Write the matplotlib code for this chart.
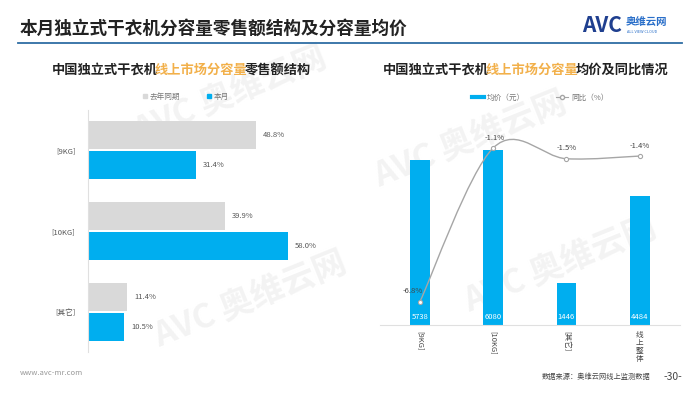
import matplotlib
matplotlib.use("Agg")
import matplotlib.pyplot as plt
from matplotlib.path import Path
from matplotlib.patches import PathPatch, Patch
from matplotlib.lines import Line2D
import numpy as np

plt.rcParams['font.family'] = ['Noto Sans CJK SC', 'DejaVu Sans']

# data
share_cats = ['[9KG]', '[10KG]', '[其它]']
share_last = [48.8, 39.9, 11.4]
share_now = [31.4, 58.0, 10.5]

price_cats = ['[9KG]', '[10KG]', '[其它]', '线\n上\n整\n体']
price = [5738, 6080, 1446, 4484]
yoy = [-6.8, -1.1, -1.5, -1.4]

BLUE = '#00AEEF'
GREY = '#D9D9D9'
ORANGE = '#F2B04A'
W, H = 700, 394

fig = plt.figure(figsize=(7, 3.94), dpi=100)


def fx(px):
    return px / W


def fy(py):
    return 1 - py / H


# header
fig.text(fx(20), fy(29), '本月独立式干衣机分容量零售额结构及分容量均价', fontsize=12.7,
         fontweight='bold', color='#222222', va='center')
fig.add_artist(Line2D([fx(18), fx(682)], [fy(43), fy(43)], color='#2E6DA4', lw=1.3))
fig.text(fx(582), fy(25), 'AVC', fontsize=15, fontweight='bold', color='#1F3F8F',
         va='center', style='italic')
fig.text(fx(626), fy(22), '奥维云网', fontsize=7.5, fontweight='bold', color='#2A6FC9', va='center')
fig.text(fx(627), fy(32), 'ALL VIEW CLOUD', fontsize=2.8, color='#2A6FC9', va='center')

# watermarks
for (x, y) in [(230, 95), (250, 300), (470, 140), (560, 265)]:
    fig.text(fx(x), fy(y), 'AVC 奥维云网', fontsize=24, fontweight='bold', color='#F3F3F3',
             rotation=22, ha='center', va='center', zorder=-1)


def mixed_title(xc, y, parts):
    r = fig.canvas.get_renderer()
    objs = [fig.text(0, fy(y), s, fontsize=9.5, fontweight='bold', color=c, va='center')
            for s, c in parts]
    widths = [o.get_window_extent(r).width - 3 for o in objs]
    x = xc - sum(widths) / 2
    for o, wd in zip(objs, widths):
        o.set_x(fx(x))
        x += wd


mixed_title(180, 70, [('中国独立式干衣机', '#222222'), ('线上市场分容量', ORANGE),
                      ('零售额结构', '#222222')])
mixed_title(524, 70, [('中国独立式干衣机', '#222222'), ('线上市场分容量', ORANGE),
                      ('均价及同比情况', '#222222')])

# left chart: retail share
ax1 = fig.add_axes([fx(88), fy(352), fx(340 - 88), (352 - 110) / H])
ax1.set_facecolor('none')
ypos = np.arange(len(share_cats))
bh = 0.345
ax1.barh(ypos - 0.185, share_last, height=bh, color=GREY)
ax1.barh(ypos + 0.185, share_now, height=bh, color=BLUE)
for i in range(len(share_cats)):
    ax1.text(share_last[i] + 2, ypos[i] - 0.185, f'{share_last[i]:.1f}%', fontsize=5.5,
             color='#555555', va='center')
    ax1.text(share_now[i] + 2, ypos[i] + 0.185, f'{share_now[i]:.1f}%', fontsize=5.5,
             color='#555555', va='center')
ax1.set_xlim(0, 73.2)
ax1.set_ylim(2.5, -0.5)
ax1.set_yticks(ypos)
ax1.set_yticklabels(share_cats, fontsize=5.5, color='#555555')
ax1.tick_params(axis='y', length=0, pad=9)
ax1.set_xticks([])
for s in ['top', 'right', 'bottom']:
    ax1.spines[s].set_visible(False)
ax1.spines['left'].set_color('#E0E0E0')
ax1.spines['left'].set_linewidth(0.8)
fig.legend(handles=[Patch(color=GREY, label='去年同期'), Patch(color=BLUE, label='本月')],
           loc='center', bbox_to_anchor=(fx(186), fy(97)), ncol=2, frameon=False,
           fontsize=5.5, handlelength=0.5, handleheight=0.5, columnspacing=3.5,
           handletextpad=0.4, labelcolor='#777777')

# right chart: avg price + yoy
ax2 = fig.add_axes([fx(380), fy(325), fx(300), (325 - 110) / H])
ax2.set_facecolor('none')
xpos = np.arange(len(price_cats))
ax2.bar(xpos, price, width=0.27, color=BLUE)
for i in range(len(price)):
    ax2.text(xpos[i], 280, str(price[i]), fontsize=5.5, color='white', ha='center', va='center')
ax2.set_xlim(-0.545, 3.55)
ax2.set_ylim(0, 7476)
ax2.set_yticks([])
ax2.set_xticks(xpos)
labs = ax2.set_xticklabels(price_cats, fontsize=5.5, color='#444444', va='top')
for lb in labs[:3]:
    lb.set_rotation(-90)
labs[3].set_linespacing(1.05)
ax2.tick_params(axis='x', length=0, pad=4)
for s in ['top', 'right', 'left']:
    ax2.spines[s].set_visible(False)
ax2.spines['bottom'].set_color('#E0E0E0')

ax3 = ax2.twinx()
ax3.set_ylim(-7.663, 0.307)
ax3.set_yticks([])
for s in ax3.spines.values():
    s.set_visible(False)
# smooth line through the yoy points (Catmull-Rom as cubic Bezier)
pts = np.column_stack([xpos, yoy]).astype(float)
ext = np.vstack([pts[0], pts, pts[-1]])
verts = [tuple(pts[0])]
codes = [Path.MOVETO]
for i in range(len(pts) - 1):
    p0, p1, p2, p3 = ext[i], ext[i + 1], ext[i + 2], ext[i + 3]
    c1 = p1 + (p2 - p0) / 6
    c2 = p2 - (p3 - p1) / 6
    verts += [tuple(c1), tuple(c2), tuple(p2)]
    codes += [Path.CURVE4] * 3
ax3.add_patch(PathPatch(Path(verts, codes), fill=False, edgecolor='#A6A6A6', lw=1.0))
ax3.plot(xpos, yoy, ls='none', marker='o', ms=3, mfc='white', mec='#A6A6A6', mew=0.8)
offs = [(-0.1, 0.4), (0.02, 0.38), (0.0, 0.38), (0.0, 0.38)]
for i in range(len(yoy)):
    ax3.text(xpos[i] + offs[i][0], yoy[i] + offs[i][1], f'{yoy[i]:.1f}%', fontsize=5.5,
             color='#444444', ha='center', va='center')
fig.legend(handles=[Line2D([], [], color=BLUE, lw=3, label='均价（元）'),
                    Line2D([], [], color='#A6A6A6', lw=0.8, marker='o', ms=3, mfc='white',
                           label='同比（%）')],
           loc='center', bbox_to_anchor=(fx(540), fy(98)), ncol=2, frameon=False,
           fontsize=5.5, handlelength=1.6, columnspacing=4, handletextpad=0.4,
           labelcolor='#777777')

# footer
fig.text(fx(20), fy(373), 'www.avc-mr.com', fontsize=5.5, color='#999999', va='center')
fig.text(fx(650), fy(377), '数据来源：奥维云网线上监测数据', fontsize=5.2, color='#444444',
         va='center', ha='right')
fig.text(fx(664), fy(377), '-30-', fontsize=7.5, color='#444444', va='center')

fig.savefig('out.png', dpi=100)
